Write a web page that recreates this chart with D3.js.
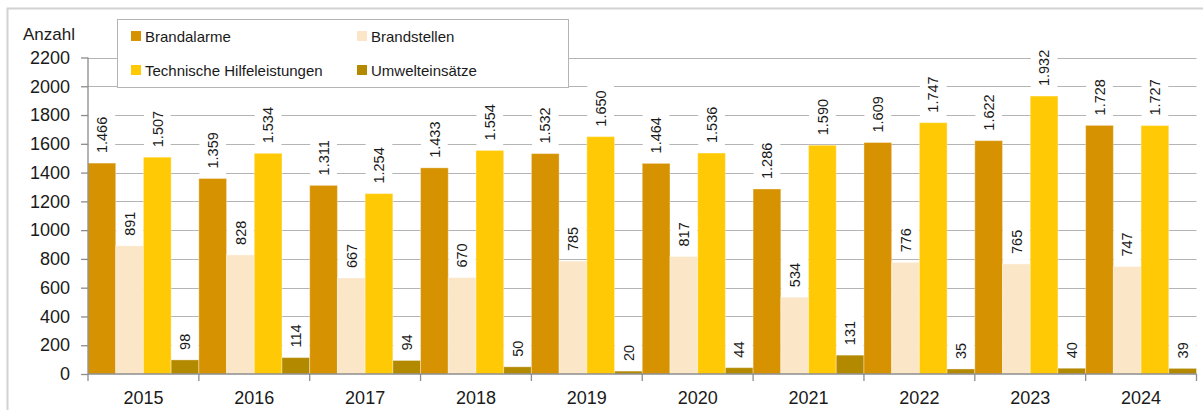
<!DOCTYPE html>
<html>
<head>
  <meta charset="utf-8">
  <title>Einsätze</title>
  <script src="https://cdn.jsdelivr.net/npm/d3@7"></script>
  <style>
    body { margin: 0; background: #fff; }
    svg { display: block; font-family: "Liberation Sans", Arial, sans-serif; }
    .grid line { stroke: #b4b4b4; stroke-width: 1px; }
    .axis path, .axis line { stroke: #8c8c8c; stroke-width: 1.3px; }
    .axis text { font-size: 18px; fill: #1a1a1a; }
    .lbl { font-size: 14.5px; fill: #1a1a1a; }
    .legend text { font-size: 15px; fill: #1a1a1a; }
  </style>
</head>
<body>
<script>
  var years = ['2015', '2016', '2017', '2018', '2019', '2020', '2021', '2022', '2023', '2024'];
  var seriesNames = ['Brandalarme', 'Brandstellen', 'Technische Hilfeleistungen', 'Umwelteinsätze'];
  var brandalarme = [1466, 1359, 1311, 1433, 1532, 1464, 1286, 1609, 1622, 1728];
  var brandstellen = [891, 828, 667, 670, 785, 817, 534, 776, 765, 747];
  var technische = [1507, 1534, 1254, 1554, 1650, 1536, 1590, 1747, 1932, 1727];
  var umwelt = [98, 114, 94, 50, 20, 44, 131, 35, 40, 39];
  var yTicks = [0, 200, 400, 600, 800, 1000, 1200, 1400, 1600, 1800, 2000, 2200];
  var colors = ['#d69200', '#fbe7c8', '#ffca05', '#b38900'];

  var values = [brandalarme, brandstellen, technische, umwelt];
  var rows = [];
  years.forEach(function (y, i) {
    seriesNames.forEach(function (s, j) {
      rows.push({ year: y, series: s, value: values[j][i], color: colors[j] });
    });
  });

  var fmt = d3.formatLocale({ decimal: ',', thousands: '.', grouping: [3], currency: ['', ' €'] }).format(',d');

  var W = 1203, H = 410;
  var svg = d3.select('body').append('svg').attr('width', W).attr('height', H);

  // Rahmen
  svg.append('rect')
    .attr('x', 7.5).attr('y', 8.5).attr('width', W).attr('height', H)
    .attr('fill', 'none').attr('stroke', '#d2d2d2').attr('stroke-width', 2);

  var x = d3.scaleBand().domain(years).range([88, 1196.5]).padding(0);
  var xi = d3.scaleBand().domain(seriesNames).range([0, x.bandwidth()]).padding(0);
  var y = d3.scaleLinear().domain([0, 2200]).range([374, 57.5]);

  // Gitterlinien
  svg.append('g').attr('class', 'grid')
    .selectAll('line').data(yTicks.filter(function (d) { return d > 0; }))
    .join('line')
    .attr('x1', 88).attr('x2', 1196.5)
    .attr('y1', function (d) { return Math.round(y(d)) + 0.5; })
    .attr('y2', function (d) { return Math.round(y(d)) + 0.5; });

  // Balken
  svg.append('g').selectAll('rect').data(rows).join('rect')
    .attr('x', function (d) { return x(d.year) + xi(d.series); })
    .attr('width', xi.bandwidth())
    .attr('y', function (d) { return y(d.value); })
    .attr('height', function (d) { return y(0) - y(d.value); })
    .attr('fill', function (d) { return d.color; })
    .attr('stroke', 'rgba(255,255,255,0.35)')
    .attr('stroke-width', 1);

  // Datenbeschriftungen
  var lg = svg.append('g');
  rows.forEach(function (d) {
    var cx = x(d.year) + xi(d.series) + xi.bandwidth() / 2;
    var top = y(d.value);
    var g = lg.append('g');
    var bg = g.append('rect').attr('fill', '#fff');
    var t = g.append('text').attr('class', 'lbl')
      .attr('transform', 'translate(' + cx + ',' + (top - 10) + ') rotate(-90)')
      .attr('dy', '0.36em')
      .attr('text-anchor', 'start')
      .text(fmt(d.value));
    var len = t.node().getComputedTextLength();
    bg.attr('x', x(d.year) + xi(d.series) + 0.5)
      .attr('width', xi.bandwidth() - 1)
      .attr('y', top - 10 - len - 5)
      .attr('height', len + 11);
  });

  // Achsen
  var yAxis = d3.axisLeft(y).tickValues(yTicks).tickSize(7).tickPadding(11).tickFormat(d3.format('d'));
  svg.append('g').attr('class', 'axis')
    .attr('transform', 'translate(88,0)')
    .call(yAxis)
    .call(function (g) { g.select('.domain').attr('d', 'M0,' + y(2200) + 'V' + y(0)); });

  var xAxis = d3.axisBottom(x).tickSize(0).tickPadding(17);
  var xg = svg.append('g').attr('class', 'axis')
    .attr('transform', 'translate(0,374)')
    .call(xAxis);
  xg.select('.domain').attr('d', 'M88,0H1196.5');
  xg.selectAll('.bound').data(years.concat(['end'])).join('line')
    .attr('x1', function (d, i) { return 88 + i * x.bandwidth(); })
    .attr('x2', function (d, i) { return 88 + i * x.bandwidth(); })
    .attr('y1', 0).attr('y2', 7);

  svg.append('text').attr('x', 23).attr('y', 40)
    .style('font-size', '17px').attr('fill', '#1a1a1a').text('Anzahl');

  // Legende
  var leg = svg.append('g').attr('class', 'legend');
  leg.append('rect').attr('x', 117.5).attr('y', 19.5).attr('width', 451).attr('height', 68)
    .attr('fill', '#fff').attr('stroke', '#b4b4b4');
  var pos = [[131, 31], [357, 31], [131, 65], [357, 65]];
  seriesNames.forEach(function (s, j) {
    leg.append('rect').attr('x', pos[j][0]).attr('y', pos[j][1]).attr('width', 10).attr('height', 10)
      .attr('fill', colors[j]);
    leg.append('text').attr('x', pos[j][0] + 14).attr('y', pos[j][1] + 10.5).text(s);
  });
</script>
</body>
</html>
